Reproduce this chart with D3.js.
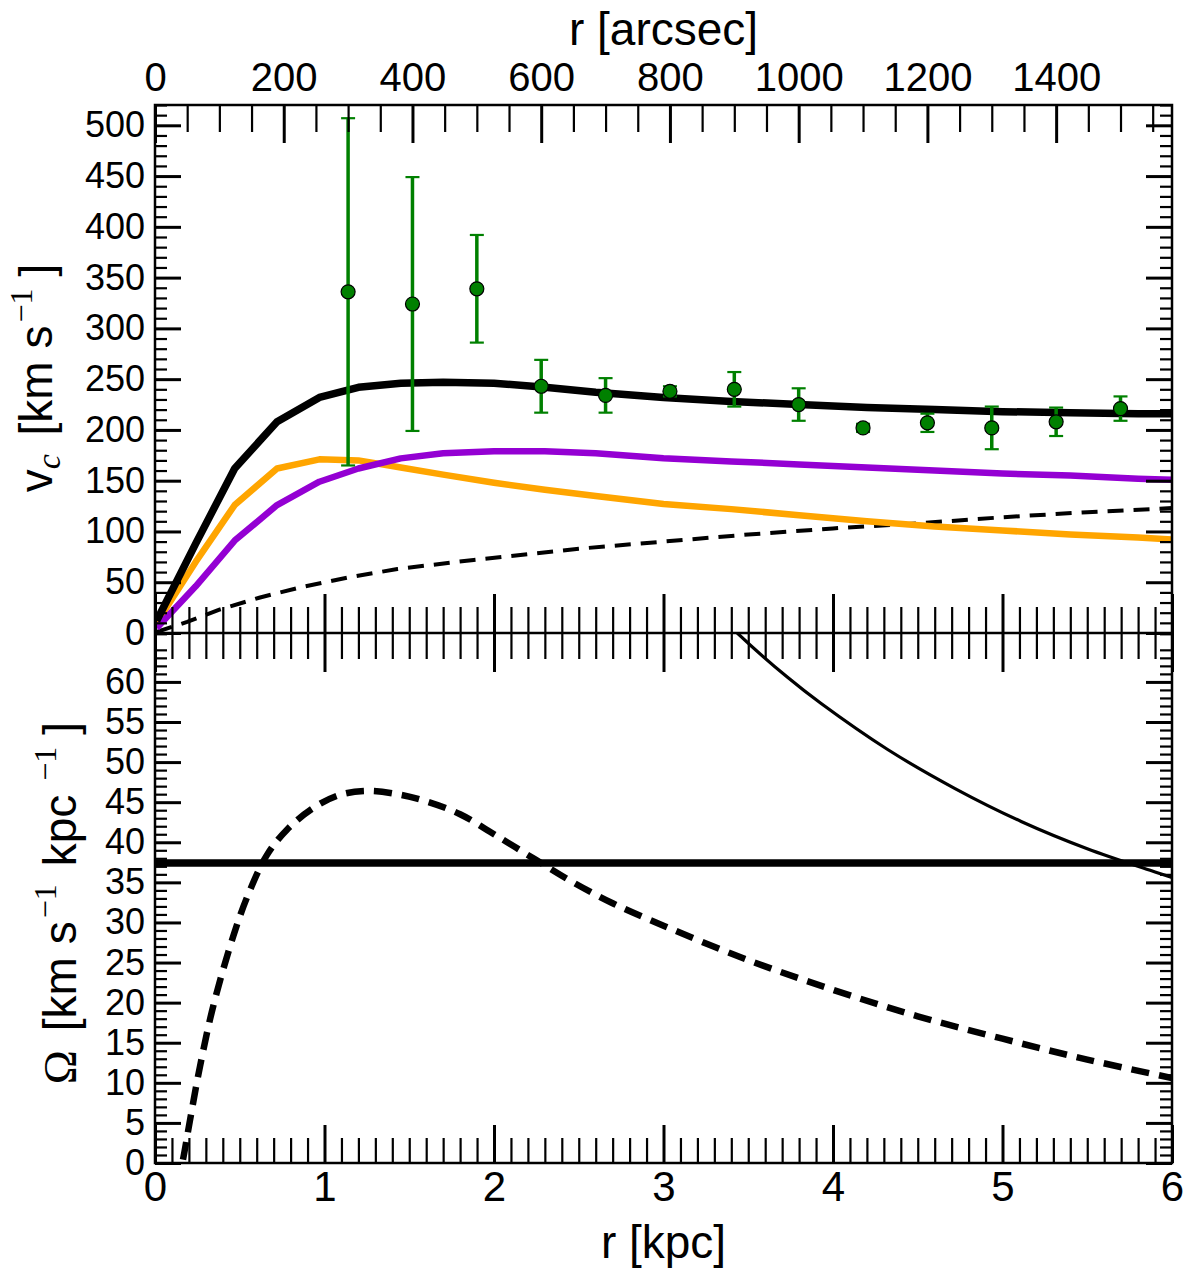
<!DOCTYPE html>
<html>
<head>
<meta charset="utf-8">
<script src="https://cdn.jsdelivr.net/npm/d3@7"></script>
<style>
  body { margin: 0; background: #fff; }
  svg { display: block; }
  text { font-family: "Liberation Sans", Arial, sans-serif; fill: #000; }
</style>
</head>
<body>
<div id="chart"></div>
<script>
// Rotation curve (top) and angular frequency (bottom)

// model grid in kpc, shared by the three solid rotation curves
const rModel = [0.01, 0.24, 0.47, 0.72, 0.97, 1.2, 1.45, 1.7, 2.0, 2.3, 2.6, 3.0, 3.4, 3.8, 4.2, 4.6, 5.0, 5.4, 5.8, 6.0];
const vTotal = [12, 88, 162, 208, 232, 242, 246, 247, 246, 242, 237, 232, 228, 225, 222, 220, 218, 217, 216, 216];
const vOrange = [10, 70, 126, 162, 171, 170, 163, 156, 148, 141, 135, 127, 122, 116, 110, 105, 101, 97, 94, 92];
const vPurple = [5, 46, 91, 126, 149, 162, 172, 177, 179, 179, 177, 172, 169, 166, 163, 160, 157, 155, 152, 151];

// dashed rotation curve
const rDash = [0.01, 0.19, 0.38, 0.62, 0.86, 1.15, 1.43, 1.88, 2.5, 3.0, 3.5, 4.0, 4.5, 5.0, 5.5, 6.0];
const vDash = [1, 11, 23, 35, 45, 55, 63, 72, 83, 90, 97, 103, 108, 114, 119, 123];

// observed points (arcsec) with errors
const rObs = [300, 400, 500, 600, 700, 800, 900, 1000, 1100, 1200, 1300, 1400, 1500];
const vObs = [336, 324, 339, 243, 234, 238, 240, 225, 202, 207, 202, 208, 221];
const vErr = [171, 125, 53, 26, 17, 5, 17, 16, 4, 9, 21, 14, 12];

// bottom panel
const rOmega = [3.3, 3.44, 3.73, 3.93, 4.32, 4.72, 5.11, 5.5, 5.9, 6.0];
const omega = [69, 66, 60.6, 57.3, 51.6, 46.7, 42.6, 39.2, 36.3, 35.6];
const rOmegaDash = [0.13, 0.165, 0.207, 0.265, 0.344, 0.462, 0.55, 0.66, 0.78, 0.935, 1.09, 1.25, 1.43, 1.6, 1.8, 2.0, 2.24, 2.45, 2.7, 3.0, 3.5, 4.0, 4.5, 5.0, 5.5, 6.0];
const omegaDash = [-3, 0.4, 5.4, 12, 19.6, 28.3, 33.5, 38.4, 41.6, 44.3, 45.9, 46.4, 46.0, 45.1, 43.5, 41.0, 37.9, 35.2, 32.4, 29.6, 25.3, 21.6, 18.3, 15.5, 12.9, 10.6];
const omegaPattern = 37.4;

// tick values
const kpcMajor = [0, 1, 2, 3, 4, 5, 6];
const arcsecMajor = [0, 200, 400, 600, 800, 1000, 1200, 1400];
const vMajor = [0, 50, 100, 150, 200, 250, 300, 350, 400, 450, 500];
const omegaMajor = [0, 5, 10, 15, 20, 25, 30, 35, 40, 45, 50, 55, 60];

const W = 1187, H = 1273;
const left = 155, right = 1172, topY = 105, midY = 633, botY = 1163;

const svg = d3.select("#chart").append("svg")
  .attr("width", W).attr("height", H);
svg.append("rect").attr("width", W).attr("height", H).attr("fill", "#fff");

const x = d3.scaleLinear().domain([0, 6]).range([left, right]);
const xArc = d3.scaleLinear().domain([0, 1580]).range([left, right]);
const yTop = d3.scaleLinear().domain([0, 520]).range([midY, topY]);
const yBot = d3.scaleLinear().domain([0, 66.1]).range([botY, midY]);

const range = (a, b, s) => d3.range(Math.round((b - a) / s) + 1).map(i => +(a + i * s).toFixed(3));
const kpcMinor = range(0, 6, 0.1).filter(v => Math.abs(v - Math.round(v)) > 1e-6);
const arcMinor = range(0, 1550, 50).filter(v => v % 200 !== 0);
const vMinor = range(0, 520, 10).filter(v => v % 50 !== 0);
const omegaMinor = range(0, 66, 1).filter(v => v % 5 !== 0);

const defs = svg.append("defs");
defs.append("clipPath").attr("id", "clipTop").append("rect")
  .attr("x", left).attr("y", topY).attr("width", right - left).attr("height", midY - topY);
defs.append("clipPath").attr("id", "clipBot").append("rect")
  .attr("x", left).attr("y", midY).attr("width", right - left).attr("height", botY - midY);

// ---------- top panel curves ----------
const gTop = svg.append("g").attr("clip-path", "url(#clipTop)");
const lineTop = d3.line().x(d => x(d[0])).y(d => yTop(d[1]));

function drawCurve(g, line, rs, vs, color, width, dash) {
  g.append("path")
    .datum(rs.map((r, i) => [r, vs[i]]))
    .attr("d", line)
    .attr("fill", "none")
    .attr("stroke", color)
    .attr("stroke-width", width)
    .attr("stroke-linejoin", "round")
    .attr("stroke-dasharray", dash || null);
}

drawCurve(gTop, lineTop, rDash, vDash, "#000", 4, "16,10");
drawCurve(gTop, lineTop, rModel, vOrange, "#FFA500", 6.5);
drawCurve(gTop, lineTop, rModel, vPurple, "#9400D3", 6.5);
drawCurve(gTop, lineTop, rModel, vTotal, "#000", 7.5);

// error bars + points
const obs = rObs.map((r, i) => ({ r: r, v: vObs[i], e: vErr[i] }));
const gObs = svg.append("g").attr("clip-path", "url(#clipTop)");
gObs.selectAll(".ebar").data(obs).enter().append("line")
  .attr("x1", d => xArc(d.r)).attr("x2", d => xArc(d.r))
  .attr("y1", d => yTop(d.v - d.e)).attr("y2", d => yTop(d.v + d.e))
  .attr("stroke", "#008000").attr("stroke-width", 3.5);
[-1, 1].forEach(s => {
  gObs.selectAll(".cap" + s).data(obs).enter().append("line")
    .attr("x1", d => xArc(d.r) - 7).attr("x2", d => xArc(d.r) + 7)
    .attr("y1", d => yTop(d.v + s * d.e)).attr("y2", d => yTop(d.v + s * d.e))
    .attr("stroke", "#008000").attr("stroke-width", 2.2);
});
gObs.selectAll("circle").data(obs).enter().append("circle")
  .attr("cx", d => xArc(d.r)).attr("cy", d => yTop(d.v)).attr("r", 7)
  .attr("fill", "#008000").attr("stroke", "#000").attr("stroke-width", 1.2);

// ---------- bottom panel curves ----------
const gBot = svg.append("g").attr("clip-path", "url(#clipBot)");
const lineBot = d3.line().x(d => x(d[0])).y(d => yBot(d[1])).curve(d3.curveCatmullRom.alpha(0.5));
drawCurve(gBot, lineBot, rOmegaDash, omegaDash, "#000", 6.5, "18,10");
drawCurve(gBot, lineBot, rOmega, omega, "#000", 3.2);
drawCurve(gBot, lineBot, [0, 6], [omegaPattern, omegaPattern], "#000", 7.5);

// ---------- axes ----------
function styleAxis(g, width) {
  g.select(".domain").remove();
  g.selectAll(".tick line").attr("stroke", "#000").attr("stroke-width", width);
  g.selectAll(".tick text").attr("fill", "#000");
  return g;
}
function addAxis(axis, tx, ty, width, fontSize) {
  const g = svg.append("g").attr("transform", `translate(${tx},${ty})`).call(axis);
  styleAxis(g, width);
  g.attr("font-family", null).attr("font-size", fontSize || null);
  return g;
}
const noLabel = () => "";

// top panel: left / right
addAxis(d3.axisLeft(yTop).tickValues(vMinor).tickSize(-12).tickFormat(noLabel), left, 0, 2.2);
addAxis(d3.axisLeft(yTop).tickValues(vMajor).tickSize(-26).tickPadding(10).tickFormat(d3.format("d")), left, 0, 3, 36);
addAxis(d3.axisRight(yTop).tickValues(vMinor).tickSize(-12).tickFormat(noLabel), right, 0, 2.2);
addAxis(d3.axisRight(yTop).tickValues(vMajor).tickSize(-26).tickFormat(noLabel), right, 0, 3);

// top arcsec axis
addAxis(d3.axisTop(xArc).tickValues(arcMinor).tickSize(-27).tickFormat(noLabel), 0, topY, 2.2);
addAxis(d3.axisTop(xArc).tickValues(arcsecMajor).tickSize(-38).tickPadding(14).tickFormat(d3.format("d")), 0, topY, 3, 40);

// shared middle axis, ticks both ways
addAxis(d3.axisTop(x).tickValues(kpcMinor).tickSize(26).tickFormat(noLabel), 0, midY, 2.2);
addAxis(d3.axisBottom(x).tickValues(kpcMinor).tickSize(26).tickFormat(noLabel), 0, midY, 2.2);
addAxis(d3.axisTop(x).tickValues(kpcMajor).tickSize(39).tickFormat(noLabel), 0, midY, 3);
addAxis(d3.axisBottom(x).tickValues(kpcMajor).tickSize(39).tickFormat(noLabel), 0, midY, 3);

// bottom panel: left / right
addAxis(d3.axisLeft(yBot).tickValues(omegaMinor).tickSize(-12).tickFormat(noLabel), left, 0, 2.2);
addAxis(d3.axisLeft(yBot).tickValues(omegaMajor).tickSize(-26).tickPadding(10).tickFormat(d3.format("d")), left, 0, 3, 36);
addAxis(d3.axisRight(yBot).tickValues(omegaMinor).tickSize(-12).tickFormat(noLabel), right, 0, 2.2);
addAxis(d3.axisRight(yBot).tickValues(omegaMajor).tickSize(-26).tickFormat(noLabel), right, 0, 3);

// bottom kpc axis
addAxis(d3.axisBottom(x).tickValues(kpcMinor).tickSize(-25).tickFormat(noLabel), 0, botY, 2.2);
addAxis(d3.axisBottom(x).tickValues(kpcMajor).tickSize(-38).tickPadding(8).tickFormat(d3.format("d")), 0, botY, 3, 42);

// spines
svg.append("rect").attr("x", left).attr("y", topY).attr("width", right - left).attr("height", botY - topY)
  .attr("fill", "none").attr("stroke", "#000").attr("stroke-width", 2.5);
svg.append("line").attr("x1", left).attr("x2", right).attr("y1", midY).attr("y2", midY)
  .attr("stroke", "#000").attr("stroke-width", 2.5);

// ---------- titles ----------
const cx = (left + right) / 2;
svg.append("text").attr("x", cx).attr("y", 45).attr("text-anchor", "middle")
  .attr("font-size", 46).text("r [arcsec]");
svg.append("text").attr("x", cx).attr("y", 1258).attr("text-anchor", "middle")
  .attr("font-size", 46).text("r [kpc]");

const serif = "'Liberation Serif', 'DejaVu Serif', serif";

const ty1 = svg.append("text").attr("transform", "translate(52,378) rotate(-90)")
  .attr("text-anchor", "middle").attr("font-size", 46);
ty1.append("tspan").text("v");
ty1.append("tspan").attr("dy", 8).attr("font-size", 34).attr("font-style", "italic")
  .style("font-family", serif).text("c");
ty1.append("tspan").attr("dy", -8).attr("dx", 6).text(" [km s");
ty1.append("tspan").attr("dy", -20).attr("dx", 3).attr("font-size", 32).style("font-family", serif).text("\u22121");
ty1.append("tspan").attr("dy", 20).attr("dx", 12).text("]");

const ty2 = svg.append("text").attr("transform", "translate(76,903) rotate(-90)")
  .attr("text-anchor", "middle").attr("font-size", 46);
ty2.append("tspan").style("font-family", serif).text("\u03A9");
ty2.append("tspan").attr("dx", 6).text(" [km s");
ty2.append("tspan").attr("dy", -20).attr("dx", 3).attr("font-size", 32).style("font-family", serif).text("\u22121");
ty2.append("tspan").attr("dy", 20).attr("dx", 18).text("kpc");
ty2.append("tspan").attr("dy", -20).attr("dx", 14).attr("font-size", 32).style("font-family", serif).text("\u22121");
ty2.append("tspan").attr("dy", 20).attr("dx", 12).text("]");
</script>
</body>
</html>
